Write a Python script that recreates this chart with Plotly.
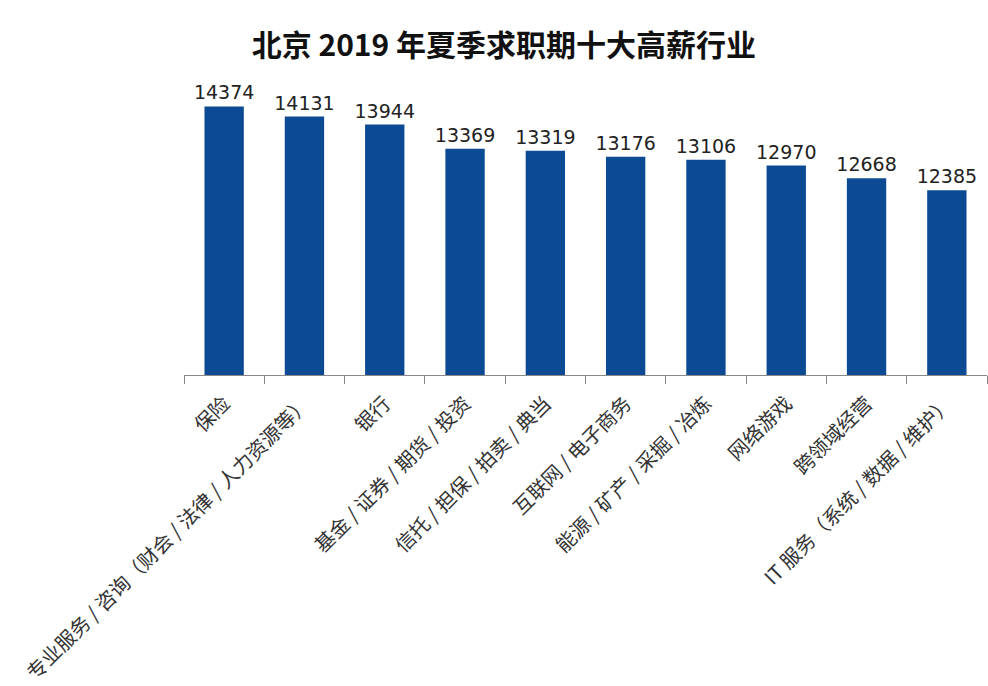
import plotly.graph_objects as go

categories = [
    "保险",
    "专业服务 / 咨询（财会 / 法律 / 人力资源等）",
    "银行",
    "基金 / 证券 / 期货 / 投资",
    "信托 / 担保 / 拍卖 / 典当",
    "互联网 / 电子商务",
    "能源 / 矿产 / 采掘 / 冶炼",
    "网络游戏",
    "跨领域经营",
    "IT 服务（系统 / 数据 / 维护）",
]
salaries = [14374, 14131, 13944, 13369, 13319, 13176, 13106, 12970, 12668, 12385]
title_text = "北京 2019 年夏季求职期十大高薪行业"

fig = go.Figure(
    go.Bar(
        x=categories,
        y=salaries,
        marker=dict(color="#0c4a93", line=dict(width=0)),
        width=0.49,
        text=[str(v) for v in salaries],
        textposition="outside",
        constraintext="none",
        textfont=dict(family="DejaVu Sans", size=19, color="#222222"),
        cliponaxis=False,
    )
)

fig.update_layout(
    width=988,
    height=686,
    margin=dict(l=184, r=1, t=80, b=309),
    paper_bgcolor="white",
    plot_bgcolor="white",
    showlegend=False,
    title=dict(
        text="<b>" + title_text + "</b>",
        x=0.51,
        xanchor="center",
        y=0.934,
        yanchor="middle",
        font=dict(family="Noto Sans CJK SC", size=30, color="#111111"),
    ),
)
fig.update_xaxes(
    type="category",
    tickangle=-45,
    tickfont=dict(family="Noto Sans CJK SC", size=20, color="#333333"),
    ticklabelstandoff=8,
    showline=True,
    linecolor="#888888",
    linewidth=1,
    ticks="outside",
    tickson="boundaries",
    ticklen=8,
    tickcolor="#888888",
    showgrid=False,
)
fig.update_yaxes(
    range=[8000, 15000],
    visible=False,
    showgrid=False,
)

fig.write_html("out.html")
